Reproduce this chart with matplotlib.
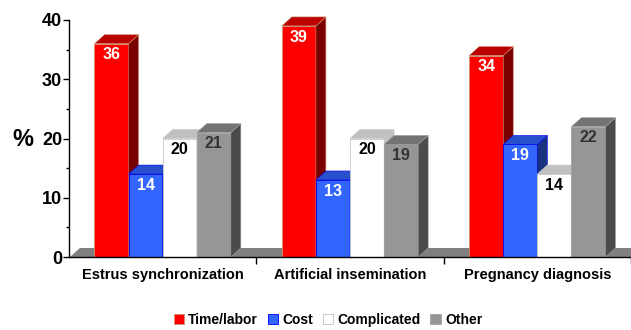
import numpy as np
import matplotlib
matplotlib.use('Agg')
import matplotlib.pyplot as plt
from matplotlib.patches import Polygon, Rectangle, Patch

plt.rcParams['font.family'] = ['Liberation Sans', 'DejaVu Sans']
plt.rcParams['font.weight'] = 'bold'

categories = ['Estrus synchronization', 'Artificial insemination', 'Pregnancy diagnosis']
series = ['Time/labor', 'Cost', 'Complicated', 'Other']
time_labor = [36, 39, 34]
cost = [14, 13, 19]
complicated = [20, 20, 14]
other = [21, 19, 22]
values = [time_labor, cost, complicated, other]

# front, top, side, edge, label colour for each series
front_cols = ['#ff0000', '#3366ff', '#ffffff', '#969696']
top_cols = ['#bb0000', '#2850cc', '#c0c0c0', '#737373']
side_cols = ['#7a0000', '#1a3380', '#c0c0c0', '#4b4b4b']
edge_cols = ['#d09070', '#0000ff', '#c8c8c8', '#a0a0a0']
text_cols = ['white', 'white', 'black', '#333333']

W, H = 631, 330
fig = plt.figure(figsize=(W / 100, H / 100), dpi=100)
ax = fig.add_axes([69 / W, (H - 257) / H, 562 / W, 237 / H])
ax.set_xlim(0, 3)
ax.set_ylim(0, 40)

# depth of the fake 3d boxes, in data units
px_x = 3 / 562
px_y = 40 / 237
dx = 10 * px_x
dy = 9 * px_y
bw = 0.182

# floor
ax.add_patch(Polygon([(0.005, 0), (3.2, 0), (3.2 + dx, dy), (0.005 + dx, dy)],
                     closed=True, facecolor='#808080', edgecolor='none', zorder=1))

for g in range(len(categories)):
    x0 = g + 0.5 - 2 * bw
    for s in range(len(series)):
        v = values[s][g]
        left = x0 + s * bw
        right = left + bw
        ax.add_patch(Rectangle((left, 0), bw, v, facecolor=front_cols[s],
                               edgecolor=edge_cols[s], lw=0.6, zorder=2, clip_on=False))
        ax.add_patch(Polygon([(right, 0), (right + dx, dy), (right + dx, v + dy), (right, v)],
                             closed=True, facecolor=side_cols[s], edgecolor=edge_cols[s],
                             lw=0.4, zorder=2, clip_on=False))
        ax.add_patch(Polygon([(left, v), (left + dx, v + dy), (right + dx, v + dy), (right, v)],
                             closed=True, facecolor=top_cols[s], edgecolor=edge_cols[s],
                             lw=0.4, zorder=2, clip_on=False))
        ax.annotate(str(v), (left + bw / 2, v), xytext=(0, -8), textcoords='offset points',
                    ha='center', va='center', fontsize=11.5, fontweight='bold',
                    color=text_cols[s], zorder=3)

for side in ['top', 'right']:
    ax.spines[side].set_visible(False)
for side in ['left', 'bottom']:
    ax.spines[side].set_color('black')
    ax.spines[side].set_linewidth(1.0)
    ax.spines[side].set_zorder(4)

ax.set_yticks([0, 10, 20, 30, 40])
ax.set_yticks([5, 15, 25, 35], minor=True)
ax.tick_params(axis='y', which='major', length=4, width=1, pad=1, labelsize=13)
ax.tick_params(axis='y', which='minor', length=2.5, width=1)

ax.set_xticks([0.5, 1.5, 2.5])
ax.set_xticklabels(categories, fontsize=10.5, fontweight='bold')
ax.set_xticks([1, 2, 3], minor=True)
ax.tick_params(axis='x', which='major', length=0, pad=8)
ax.tick_params(axis='x', which='minor', length=5, width=1)
for lab in ax.get_yticklabels():
    lab.set_fontweight('bold')

fig.text(23 / W, (H - 140) / H, '%', fontsize=17, fontweight='bold', ha='center', va='center')

handles = [Patch(facecolor=front_cols[i], edgecolor=edge_cols[i] if i != 2 else '#c0c0c0', lw=0.6)
           for i in range(len(series))]
fig.legend(handles, series, loc='center', bbox_to_anchor=(328 / W, 10 / H), ncol=4,
           frameon=False, handlelength=0.75, handleheight=0.75,
           handletextpad=0.3, columnspacing=0.7, prop={'weight': 'bold', 'size': 10})

fig.savefig('out.png', dpi=100)
